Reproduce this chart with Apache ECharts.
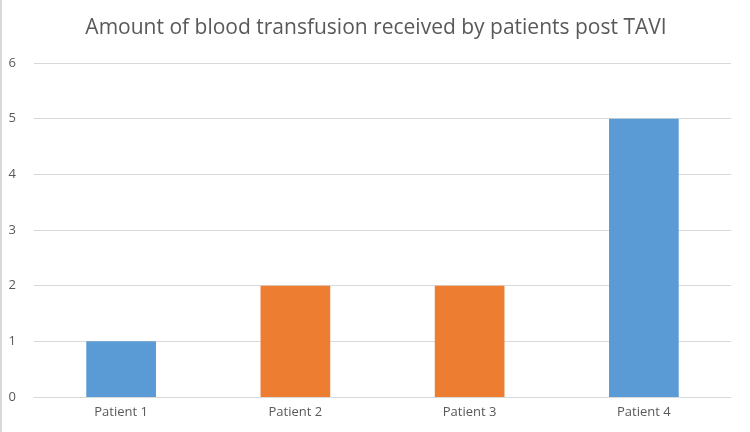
<!DOCTYPE html>
<html>
<head>
<meta charset="utf-8">
<script src="https://cdn.jsdelivr.net/npm/echarts@6/dist/echarts.min.js"></script>
<style>
  html, body { margin: 0; padding: 0; background: #fff; }
  #chart { width: 748px; height: 432px; border-left: 2px solid #d9d9d9; }
</style>
</head>
<body>
<div id="chart"></div>
<script>
const categories = ['Patient 1', 'Patient 2', 'Patient 3', 'Patient 4']
const values = [1, 2, 2, 5]
const barColors = ['#5B9BD5', '#ED7D31', '#ED7D31', '#5B9BD5']
const title = 'Amount of blood transfusion received by patients post TAVI'

const chart = echarts.init(document.getElementById('chart'))

chart.setOption({
  animation: false,
  title: {
    text: title,
    left: 'center',
    top: 13,
    textStyle: {
      fontFamily: 'Open Sans',
      fontSize: 21,
      fontWeight: 'normal',
      color: '#595959'
    }
  },
  grid: {
    left: 32,
    right: 19,
    top: 63,
    bottom: 35
  },
  xAxis: {
    type: 'category',
    data: categories,
    axisLine: { lineStyle: { color: '#d9d9d9' } },
    axisTick: { show: false },
    axisLabel: { color: '#595959', fontFamily: 'Open Sans', fontSize: 13, margin: 9 }
  },
  yAxis: {
    type: 'value',
    min: 0,
    max: 6,
    interval: 1,
    axisLine: { show: false },
    axisTick: { show: false },
    axisLabel: { color: '#595959', fontFamily: 'Open Sans', fontSize: 13, margin: 18 },
    splitLine: { lineStyle: { color: '#d9d9d9' } }
  },
  series: [
    {
      type: 'bar',
      data: values.map((v, i) => ({ value: v, itemStyle: { color: barColors[i] } })),
      barWidth: '40%'
    }
  ]
})
</script>
</body>
</html>
